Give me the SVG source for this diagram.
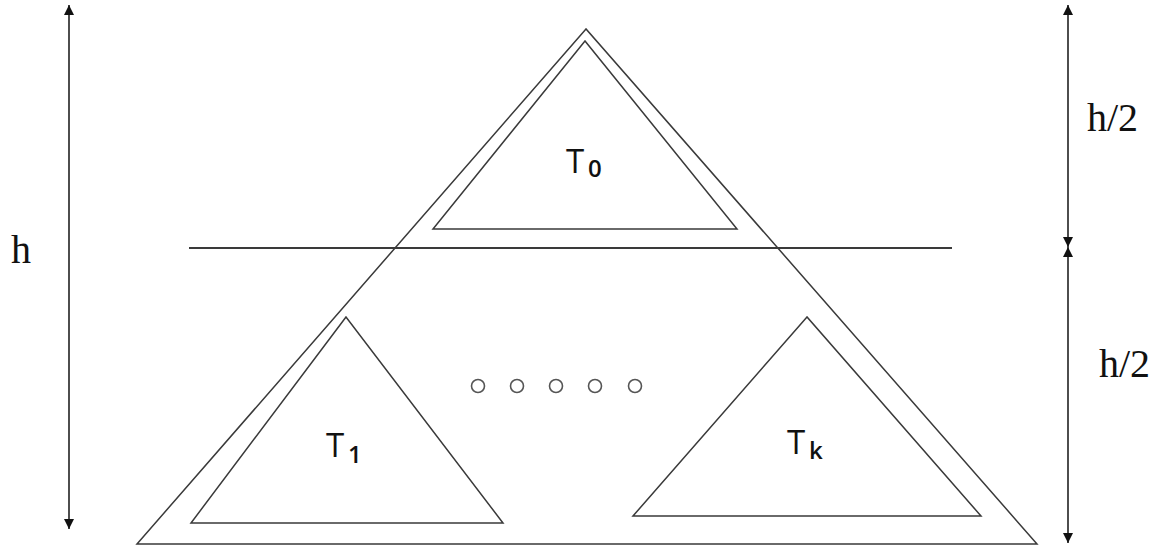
<svg xmlns="http://www.w3.org/2000/svg" width="1165" height="546" viewBox="0 0 1165 546">
<style>
.tri{fill:none;stroke:#3a3a3a;stroke-width:1.5;stroke-linejoin:miter}
.ln{stroke:#3a3a3a;stroke-width:1.8;fill:none}
.dot{fill:none;stroke:#555;stroke-width:1.6}
.lbl{font-family:"Open Sans","Noto Sans",sans-serif;font-size:33px;fill:#111}
.sub{font-size:24px;font-weight:600}
.dim{font-family:"Liberation Serif",serif;font-size:40px;fill:#111}
</style>
<defs>
<marker id="ah" markerWidth="11" markerHeight="10" refX="10" refY="5" orient="auto-start-reverse" markerUnits="userSpaceOnUse">
<path d="M0,0 L10,5 L0,10 Z" fill="#111"/>
</marker>
</defs>
<rect width="1165" height="546" fill="#fff"/>
<g id="outer">
<polygon class="tri" points="586,29 137,544 1037,544"/>
</g>
<g id="T0">
<polygon class="tri" points="585,41 433,229 737,229"/>
<text class="lbl" x="566" y="173">T</text><text class="lbl sub" x="588" y="177">0</text>
</g>
<g id="T1">
<polygon class="tri" points="346,317 191,523 503,523"/>
<text class="lbl" x="326" y="457">T</text><text class="lbl sub" x="348" y="463">1</text>
</g>
<g id="Tk">
<polygon class="tri" points="807,317 633,516 981,516"/>
<text class="lbl" x="787" y="454">T</text><text class="lbl sub" x="809" y="459">k</text>
</g>
<g id="dots">
<circle class="dot" cx="478" cy="386" r="6.5"/>
<circle class="dot" cx="517" cy="386" r="6.5"/>
<circle class="dot" cx="556" cy="386" r="6.5"/>
<circle class="dot" cx="595" cy="386" r="6.5"/>
<circle class="dot" cx="635" cy="386" r="6.5"/>
</g>
<g id="connectors">
<line class="ln" x1="189" y1="248" x2="952" y2="248"/>
<line class="ln" x1="69" y1="5" x2="69" y2="529" marker-start="url(#ah)" marker-end="url(#ah)"/>
<line class="ln" x1="1068" y1="5" x2="1068" y2="247" marker-start="url(#ah)" marker-end="url(#ah)"/>
<line class="ln" x1="1068" y1="247" x2="1068" y2="543" marker-start="url(#ah)" marker-end="url(#ah)"/>
</g>
<g id="labels">
<text class="dim" x="11" y="263">h</text>
<text class="dim" x="1087" y="131">h/2</text>
<text class="dim" x="1099" y="377">h/2</text>
</g>
</svg>
